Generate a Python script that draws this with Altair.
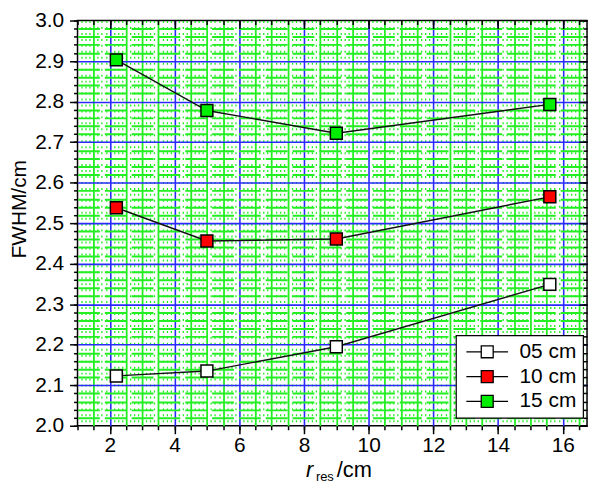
import altair as alt
import pandas as pd
import numpy as np

# ---- data ----
r_res = [2.2, 5.0, 9.0, 15.6]
fwhm_05 = [2.123, 2.135, 2.195, 2.349]
fwhm_10 = [2.538, 2.456, 2.461, 2.565]
fwhm_15 = [2.903, 2.778, 2.722, 2.793]
series_labels = ["05 cm", "10 cm", "15 cm"]
series_colors = ["#ffffff", "#ff0000", "#00ee00"]

x_ticks = [2, 4, 6, 8, 10, 12, 14, 16]
y_ticks = [2.0, 2.1, 2.2, 2.3, 2.4, 2.5, 2.6, 2.7, 2.8, 2.9, 3.0]
x_domain = [1.0, 16.75]
y_domain = [2.0, 3.0]

rows = []
for lab, vals in zip(series_labels, [fwhm_05, fwhm_10, fwhm_15]):
    for r, v in zip(r_res, vals):
        rows.append({"r": r, "fwhm": v, "series": lab})
df = pd.DataFrame(rows)

# ---- grid / tick positions ----
def steps(lo, hi, step):
    n = int(round((hi - lo) / step))
    return [round(lo + i * step, 4) for i in range(n + 1)]

x_minor = steps(1.0, 16.5, 0.5)
y_minor = steps(2.0, 3.0, 0.02)
x_blue = [v for v in x_ticks]
y_blue = [v for v in y_ticks if 2.0 < v < 3.0]
x_green = [v for v in x_minor if v > 1.0 and round(v % 2, 4) != 0]
x_dot = [v for v in steps(1.0, 16.75, 0.125)
         if 1.0 < v < 16.75 and round(v % 0.5, 4) != 0]
y_green = [v for v in y_minor if 2.0 < v < 3.0 and round((v * 100) % 10, 3) not in (0.0, 10.0)]

FONT = "Liberation Sans"
xs = alt.Scale(domain=x_domain, nice=False, zero=False)
ys = alt.Scale(domain=y_domain, nice=False, zero=False)

GREEN = "#22ee22"
BLUE = "#2a2aff"


def grid_axis(values, orient, color, width, dash=None):
    kw = dict(values=values, orient=orient, grid=True, gridColor=color,
              gridWidth=width, gridOpacity=1, ticks=False, labels=False,
              domain=False, title=None)
    if dash:
        kw["gridDash"] = dash
    return alt.Axis(**kw)


def tick_axis(values, orient, size, offset=0, labels=False, fmt=None):
    kw = dict(values=values, orient=orient, grid=False, domain=False,
              ticks=True, tickSize=size, tickColor="black", tickWidth=1.5,
              labels=labels, title=None, offset=offset)
    if labels:
        kw.update(labelFontSize=21, labelFont=FONT, labelColor="black",
                  labelPadding=1 if orient == "bottom" else 6, format=fmt)
    return alt.Axis(**kw)


def axis_layer(xaxis, yaxis):
    return alt.Chart(df).mark_point(opacity=0).encode(
        x=alt.X("r:Q", scale=xs, axis=xaxis),
        y=alt.Y("fwhm:Q", scale=ys, axis=yaxis),
    )


layers = [
    axis_layer(grid_axis(x_dot, "bottom", GREEN, 1.3, [2, 4]), None),
    axis_layer(None, grid_axis(y_green, "left", GREEN, 2, [22, 5])),
    axis_layer(grid_axis(x_green, "bottom", GREEN, 1.8), None),
    axis_layer(grid_axis(x_blue, "bottom", BLUE, 1.6),
               grid_axis(y_blue, "left", BLUE, 1.6)),
    axis_layer(tick_axis(x_ticks, "bottom", 8, labels=True, fmt="d"),
               tick_axis(y_ticks, "left", 8, labels=True, fmt=".1f")),
    axis_layer(tick_axis(x_minor, "bottom", 4), tick_axis(y_minor, "left", 4)),
    axis_layer(tick_axis(x_ticks, "top", 8, offset=-8),
               tick_axis(y_ticks, "right", 8, offset=-8)),
    axis_layer(tick_axis(x_minor, "top", 4, offset=-4),
               tick_axis(y_minor, "right", 4, offset=-4)),
]

lines = alt.Chart(df).mark_line(color="#111111", strokeWidth=1.4).encode(
    x=alt.X("r:Q", scale=xs, axis=None),
    y=alt.Y("fwhm:Q", scale=ys, axis=None),
    detail="series:N",
)

legend = alt.Legend(
    title=None, orient="none", legendX=381, legendY=317,
    fillColor="white", strokeColor="black",
    padding=6, labelFontSize=21, labelFont=FONT, labelColor="black",
    symbolType="M-3.5,0L-1,0M1,0L3.5,0M-1,-1L1,-1L1,1L-1,1Z",
    symbolSize=144, symbolStrokeColor="black", symbolStrokeWidth=1.3,
    symbolOffset=15, labelOffset=22, rowPadding=3,
)

points = alt.Chart(df).mark_point(
    shape="square", filled=True, size=144, stroke="black", strokeWidth=1.5, opacity=1
).encode(
    x=alt.X("r:Q", scale=xs, axis=None),
    y=alt.Y("fwhm:Q", scale=ys, axis=None),
    fill=alt.Fill("series:N",
                  scale=alt.Scale(domain=series_labels, range=series_colors),
                  legend=legend),
)

# axis titles
y_title = alt.Chart(pd.DataFrame({"t": ["FWHM/cm"]})).mark_text(
    angle=270, fontSize=21, font=FONT, color="black", align="center", baseline="alphabetic"
).encode(text="t:N", x=alt.value(-52), y=alt.value(190))

x_title_r = alt.Chart(pd.DataFrame({"t": ["r"]})).mark_text(
    fontSize=22, font=FONT, fontStyle="italic", color="black", align="left", baseline="alphabetic"
).encode(text="t:N", x=alt.value(230), y=alt.value(460))
x_title_sub = alt.Chart(pd.DataFrame({"t": ["res"]})).mark_text(
    fontSize=13, font=FONT, color="black", align="left", baseline="alphabetic"
).encode(text="t:N", x=alt.value(240), y=alt.value(464))
x_title_cm = alt.Chart(pd.DataFrame({"t": ["/cm"]})).mark_text(
    fontSize=22, font=FONT, color="black", align="left", baseline="alphabetic"
).encode(text="t:N", x=alt.value(261), y=alt.value(460))

chart = alt.layer(*layers, lines, points, y_title, x_title_r, x_title_sub, x_title_cm).resolve_axis(
    x="independent", y="independent"
).properties(
    width=513, height=408,
    autosize=alt.AutoSizeParams(type="none"),
    padding={"left": 70, "top": 11, "right": 5, "bottom": 56},
    background="white",
).configure_view(stroke="black", strokeWidth=1.5
).configure_legend(strokeWidth=1.2, cornerRadius=0)

chart.save("out.html", embed_options={"renderer": "svg", "actions": False})
